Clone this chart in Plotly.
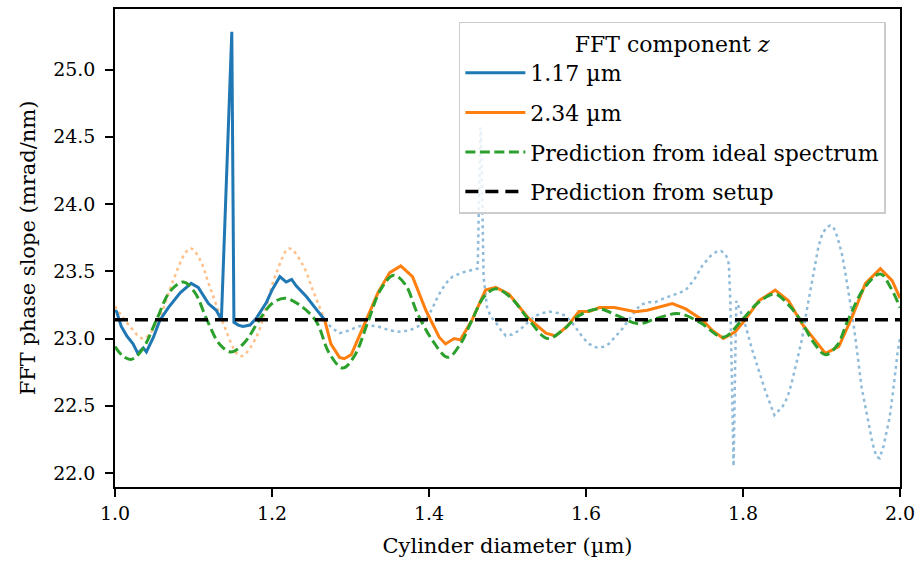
import plotly.graph_objects as go

# ---- data ----
blue_x = [1.000, 1.002, 1.008, 1.015, 1.023, 1.029, 1.036, 1.040, 1.049, 1.057, 1.068, 1.083,
          1.097, 1.106, 1.119, 1.129, 1.1355, 1.1488, 1.1515, 1.157, 1.163, 1.172, 1.180, 1.193,
          1.200, 1.210, 1.218, 1.225, 1.231, 1.244, 1.256, 1.267]
blue_y = [23.21, 23.20, 23.09, 23.02, 22.96, 22.89, 22.93, 22.90, 23.01, 23.135, 23.23, 23.34,
          23.41, 23.38, 23.26, 23.21, 23.14, 25.28, 23.12, 23.10, 23.09, 23.10, 23.15, 23.27,
          23.36, 23.46, 23.42, 23.44, 23.39, 23.31, 23.22, 23.14]

blue_dot_x = [1.267, 1.276, 1.286, 1.298, 1.310, 1.320, 1.335, 1.350, 1.362, 1.375, 1.386, 1.396,
              1.404, 1.411, 1.417, 1.423, 1.430, 1.442, 1.455, 1.462, 1.4655, 1.4665, 1.4695, 1.474,
              1.479, 1.485, 1.492, 1.498, 1.506, 1.515, 1.526, 1.536, 1.545, 1.553, 1.564, 1.574,
              1.582, 1.590, 1.597, 1.604, 1.610, 1.616, 1.623, 1.629, 1.637, 1.646, 1.657, 1.669,
              1.680, 1.688, 1.700, 1.710, 1.719, 1.727, 1.738, 1.748, 1.758, 1.767, 1.772, 1.777,
              1.780, 1.782, 1.784, 1.786, 1.788, 1.790, 1.7915, 1.797, 1.803, 1.811, 1.818, 1.824,
              1.829, 1.833, 1.837, 1.840, 1.843, 1.846, 1.850, 1.854, 1.858, 1.862, 1.868, 1.875,
              1.880, 1.886, 1.891, 1.896, 1.901, 1.907, 1.911, 1.915, 1.920, 1.926, 1.930, 1.934,
              1.939, 1.943, 1.947, 1.951, 1.956, 1.960, 1.965, 1.970, 1.974, 1.979, 1.983, 1.987,
              1.991, 1.994, 1.997, 2.000]
blue_dot_y = [23.14, 23.08, 23.04, 23.06, 23.09, 23.10, 23.09, 23.06, 23.05, 23.06, 23.09, 23.14,
              23.22, 23.31, 23.37, 23.42, 23.46, 23.49, 23.51, 23.52, 24.57, 24.50, 23.46, 23.23,
              23.16, 23.12, 23.06, 23.02, 23.03, 23.06, 23.12, 23.17, 23.19, 23.20, 23.19, 23.17,
              23.12, 23.06, 23.00, 22.96, 22.94, 22.93, 22.94, 22.96, 23.01, 23.07, 23.16, 23.25,
              23.27, 23.27, 23.30, 23.32, 23.34, 23.36, 23.44, 23.54, 23.61, 23.65, 23.65, 23.63,
              23.60, 23.55, 23.25, 22.65, 22.05, 22.80, 23.28, 23.20, 23.10, 22.93, 22.80, 22.69,
              22.60, 22.54, 22.48, 22.43, 22.45, 22.47, 22.49, 22.53, 22.59, 22.67, 22.82, 22.99,
              23.17, 23.36, 23.53, 23.68, 23.78, 23.83, 23.84, 23.83, 23.76, 23.63, 23.50, 23.36,
              23.18, 23.01, 22.82, 22.64, 22.49, 22.37, 22.22, 22.12, 22.11, 22.20, 22.30, 22.42,
              22.60, 22.77, 22.90, 23.00]

orange_x = [1.267, 1.275, 1.286, 1.292, 1.301, 1.320, 1.335, 1.350, 1.364, 1.379, 1.396, 1.413,
            1.421, 1.432, 1.440, 1.455, 1.472, 1.485, 1.502, 1.527, 1.549, 1.561, 1.576, 1.591,
            1.604, 1.617, 1.636, 1.663, 1.678, 1.710, 1.727, 1.748, 1.761, 1.775, 1.790, 1.803,
            1.820, 1.841, 1.858, 1.875, 1.905, 1.922, 1.939, 1.956, 1.975, 1.990, 2.000]
orange_y = [23.14, 22.96, 22.86, 22.85, 22.88, 23.14, 23.34, 23.49, 23.54, 23.46, 23.21, 23.01,
            22.96, 23.00, 22.99, 23.14, 23.36, 23.38, 23.33, 23.15, 23.04, 23.02, 23.09, 23.20,
            23.20, 23.23, 23.23, 23.20, 23.21, 23.26, 23.22, 23.14, 23.06, 23.00, 23.05, 23.14,
            23.28, 23.36, 23.28, 23.11, 22.89, 22.94, 23.16, 23.41, 23.52, 23.43, 23.30]

orange_dot_x = [1.000, 1.019, 1.036, 1.053, 1.074, 1.090, 1.097, 1.108, 1.121, 1.138, 1.155, 1.162,
                1.180, 1.205, 1.222, 1.239, 1.252, 1.267]
orange_dot_y = [23.24, 23.09, 23.00, 23.11, 23.43, 23.64, 23.67, 23.59, 23.38, 23.11, 22.89, 22.87,
                23.01, 23.48, 23.67, 23.55, 23.36, 23.14]

green_x = [1.000, 1.010, 1.021, 1.035, 1.053, 1.070, 1.087, 1.102, 1.117, 1.133, 1.148, 1.165,
           1.184, 1.200, 1.216, 1.235, 1.256, 1.273, 1.290, 1.305, 1.322, 1.338, 1.355, 1.370,
           1.385, 1.404, 1.424, 1.440, 1.455, 1.470, 1.485, 1.505, 1.527, 1.551, 1.570, 1.591,
           1.616, 1.640, 1.667, 1.690, 1.718, 1.745, 1.775, 1.799, 1.820, 1.841, 1.858, 1.873,
           1.890, 1.905, 1.920, 1.934, 1.955, 1.975, 1.988, 2.000]
green_y = [22.94, 22.87, 22.845, 22.92, 23.14, 23.35, 23.42, 23.34, 23.14, 22.96, 22.90, 22.97,
           23.14, 23.26, 23.30, 23.25, 23.13, 22.89, 22.78, 22.87, 23.12, 23.36, 23.47, 23.40,
           23.19, 22.99, 22.86, 22.96, 23.14, 23.31, 23.37, 23.30, 23.14, 23.00, 23.06, 23.17,
           23.22, 23.17, 23.11, 23.15, 23.185, 23.12, 23.01, 23.14, 23.27, 23.33, 23.25, 23.14,
           22.97, 22.88, 22.95, 23.14, 23.38, 23.48, 23.38, 23.23]

setup_x = [1.0, 2.0]
setup_y = [23.14, 23.14]

x_ticks = [1.0, 1.2, 1.4, 1.6, 1.8, 2.0]
y_ticks = [22.0, 22.5, 23.0, 23.5, 24.0, 24.5, 25.0]

BLUE = "#1f77b4"
ORANGE = "#ff7f0e"
GREEN = "#2ca02c"
FONT = "DejaVu Serif"
TICK_FS = 19
TITLE_FS = 21
LEG_FS = 22

fig = go.Figure()
fig.add_trace(go.Scatter(x=orange_dot_x, y=orange_dot_y, mode="lines", showlegend=False,
                         line=dict(color="rgba(255,127,14,0.5)", width=2.5, dash="3px,3.7px", shape="spline")))
fig.add_trace(go.Scatter(x=blue_dot_x, y=blue_dot_y, mode="lines", showlegend=False,
                         line=dict(color="rgba(31,119,180,0.5)", width=2.5, dash="3px,3.7px")))
fig.add_trace(go.Scatter(x=blue_x, y=blue_y, mode="lines", name="1.17 µm", legendgroup="a",
                         line=dict(color=BLUE, width=3)))
fig.add_trace(go.Scatter(x=orange_x, y=orange_y, mode="lines", name="2.34 µm", legendgroup="b",
                         line=dict(color=ORANGE, width=3)))
fig.add_trace(go.Scatter(x=green_x, y=green_y, mode="lines", name="Prediction from ideal spectrum",
                         legendgroup="c",
                         line=dict(color=GREEN, width=3, dash="10px,4.5px", shape="spline")))
fig.add_trace(go.Scatter(x=setup_x, y=setup_y, mode="lines", name="Prediction from setup",
                         legendgroup="d",
                         line=dict(color="black", width=3.5, dash="13px,7px")))

axis_common = dict(showline=True, linecolor="black", linewidth=1.5, mirror=True,
                   ticks="outside", ticklen=8, tickwidth=1.5, tickcolor="black",
                   showgrid=False, zeroline=False, tickformat=".1f",
                   tickfont=dict(family=FONT, size=TICK_FS, color="black"))

fig.update_layout(
    width=922, height=572,
    margin=dict(l=115, r=20, t=7, b=85),
    paper_bgcolor="white", plot_bgcolor="white",
    font=dict(family=FONT, size=TICK_FS, color="black"),
    xaxis=dict(range=[1.0, 2.0], tickvals=x_ticks,
               title=dict(text="Cylinder diameter (µm)", font=dict(family=FONT, size=TITLE_FS), standoff=16),
               **axis_common),
    yaxis=dict(range=[21.896, 25.45], tickvals=y_ticks, ticklabelstandoff=6,
               title=dict(text="FFT phase slope (mrad/nm)", font=dict(family=FONT, size=TITLE_FS), standoff=12),
               **axis_common),
    legend=dict(x=0.982, y=0.973, xanchor="right", yanchor="top",
                bgcolor="rgba(255,255,255,0.8)", bordercolor="#cccccc", borderwidth=1.5,
                font=dict(family=FONT, size=LEG_FS, color="black"),
                title=dict(text="FFT component <i>z</i>", side="top center",
                           font=dict(family=FONT, size=LEG_FS)),
                tracegroupgap=8, itemwidth=60),
)

fig.write_html("out.html")
